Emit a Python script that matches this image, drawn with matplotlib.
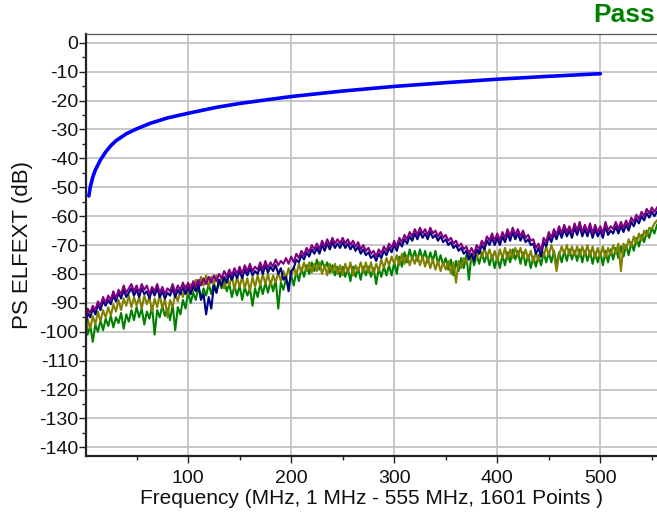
import numpy as np
import matplotlib
matplotlib.use("Agg")
import matplotlib.pyplot as plt
from matplotlib.ticker import MultipleLocator

plt.rcParams['font.family'] = ['Liberation Sans', 'DejaVu Sans']
plt.rcParams['axes.unicode_minus'] = False

# sweep grid (MHz): 1 MHz, then every 2.5 MHz up to 555
freq = np.concatenate(([1], np.arange(2.5, 555.1, 2.5)))

# limit line
limit_f = [3.7, 5, 7.5, 10, 15, 20, 25, 30, 40, 50, 63, 80, 100, 128, 150, 175,
           200, 250, 300, 350, 400, 450, 500]
limit_db = [-53, -50, -46.5, -44, -40.5, -37.8, -35.6, -33.9, -31.5, -29.8, -27.9, -26,
            -24.4, -22.3, -21, -19.8, -18.6, -16.7, -15.1, -13.8, -12.6, -11.6, -10.7]

# measured pairs, one row per 25 MHz
purple = [-95.5, -92, -93.5, -91, -92.5, -89.5, -91, -88, -90, -87.5,
          -89, -86, -88.5, -85.5, -87, -84, -86.5, -85, -83.5, -86,
          -84, -86.5, -83.5, -85.5, -84, -87, -84.5, -86, -83.5, -86.5,
          -84.5, -87, -85, -86, -83.5, -86.5, -84, -85.5, -83, -85.5,
          -83, -85.5, -82.5, -84.5, -82, -84, -81.5, -83.5, -81, -83,
          -80.5, -82.5, -80, -81.5, -79, -81, -78.5, -80.5, -78, -80,
          -77.5, -80, -77, -79, -76.5, -79, -77.5, -78.5, -76, -78.5,
          -75.5, -78, -76, -77.5, -75, -77, -75.5, -76.5, -74.5, -76.5,
          -74, -76, -73, -74.5, -72, -73.5, -71, -72.5, -70, -71.5,
          -69.5, -71.5, -68.5, -70.5, -68, -70, -67.5, -69.5, -68, -69.5,
          -67.5, -69.5, -68, -70, -68.5, -70.5, -69, -71.5, -70, -72,
          -71, -73, -72, -74, -71.5, -73, -70.5, -72, -69.5, -71,
          -68.5, -70.5, -67.5, -69, -66.5, -68, -65.5, -67, -64.5, -66.5,
          -64, -66, -64.5, -66.5, -64, -66, -65, -67, -65.5, -67.5,
          -66.5, -68.5, -67.5, -69.5, -68.5, -70.5, -69.5, -71.5, -70.5, -73,
          -71, -73, -70, -71.5, -68.5, -70, -67, -68.5, -66, -68.5,
          -66, -68.5, -65.5, -67.5, -64.5, -67, -64, -66.5, -64.5, -67,
          -65, -67.5, -66.5, -68.5, -68, -71, -69.5, -72, -67.5, -69,
          -65.5, -67.5, -64.5, -66.5, -63.5, -66, -63, -65.5, -63.5, -66,
          -62.5, -65, -62, -65.5, -63, -65.5, -62.5, -66, -63, -65.5,
          -63.5, -66, -62, -65, -63.5, -64.5, -62, -64.5, -62, -64,
          -61.5, -63.5, -60.5, -62, -59.5, -61, -58.5, -60, -57.5, -59,
          -57, -58.5, -57]
navy = [-97, -93.5, -95, -92, -94, -90.5, -92.5, -89.5, -91, -89,
        -90.5, -87.5, -89.5, -86.5, -88.5, -85.5, -88, -86.5, -85, -87.5,
        -85.5, -88, -85, -87, -86, -88.5, -85.5, -87.5, -85, -88,
        -86, -88.5, -86.5, -87.5, -85, -88, -85.5, -87, -84.5, -87,
        -84.5, -87, -84, -86, -83.5, -89, -87, -94, -88, -92,
        -84, -86.5, -82, -84, -81, -83, -80, -82, -79.5, -81.5,
        -79, -81.5, -78.5, -80.5, -78, -80.5, -79, -80, -77.5, -80,
        -77, -79.5, -77.5, -79, -77, -80, -78, -82, -81, -86,
        -79, -78, -75, -76, -73.5, -75, -72.5, -74, -71.5, -73,
        -71, -73, -70, -72, -69.5, -71.5, -69, -71, -69.5, -71,
        -69, -71, -69.5, -71.5, -70, -72, -70.5, -73, -71.5, -73.5,
        -72.5, -74.5, -73.5, -75.5, -73, -74.5, -72, -73.5, -71, -72.5,
        -70, -72, -69, -70.5, -68, -69.5, -67, -68.5, -66, -68,
        -65.5, -67.5, -66, -68, -65.5, -67.5, -66.5, -68.5, -67, -69,
        -68, -70, -69, -71, -70, -72, -71, -73, -72, -75,
        -73, -75.5, -71.5, -73, -70, -71.5, -68.5, -70, -67.5, -70,
        -67.5, -70, -67, -69, -66, -68.5, -65.5, -68, -66, -68.5,
        -66.5, -69, -68, -70, -69.5, -73, -71, -74, -69, -70.5,
        -67, -69, -66, -68, -65, -67.5, -64.5, -67, -65, -67.5,
        -64, -66.5, -63.5, -67, -64.5, -67, -64, -67.5, -64.5, -67,
        -65, -67.5, -63.5, -66.5, -65, -66, -63.5, -66, -63.5, -65.5,
        -63, -65, -62, -63.5, -61, -62.5, -60, -61.5, -59, -60.5,
        -58.5, -60, -58.5]
green = [-96, -101, -98, -103.5, -97.5, -100, -96, -99.5, -95.5, -98,
         -94.5, -98.5, -95, -97, -93.5, -99, -94, -96.5, -92.5, -96,
         -91.5, -95, -92, -97.5, -93, -95.5, -91, -101, -92.5, -95,
         -91, -94.5, -92, -96, -90.5, -99.5, -91.5, -94, -89, -92,
         -86, -90, -86.5, -89, -84.5, -88.5, -85, -87.5, -83.5, -87,
         -83, -86.5, -82.5, -85, -82, -86, -83.5, -88, -84, -87.5,
         -84, -89, -84.5, -87.5, -85, -91, -85, -88, -83.5, -87,
         -83, -86.5, -82.5, -86, -82, -92, -83, -85.5, -81.5, -84.5,
         -80.5, -84, -79, -82.5, -78, -81, -77, -80, -76, -79,
         -75, -78.5, -75.5, -78, -76, -79.5, -77, -80.5, -77.5, -81,
         -77.5, -81, -78, -82.5, -77.5, -81, -78, -82, -77.5, -80.5,
         -77.5, -81, -78, -83.5, -78, -81, -77.5, -80.5, -77, -80.5,
         -76, -80, -74, -77.5, -72.5, -76, -71.5, -75, -72, -75.5,
         -71.5, -75, -72, -76, -72.5, -75.5, -72, -76.5, -73.5, -77,
         -74.5, -78.5, -75, -80.5, -75.5, -79, -74.5, -78, -73.5, -82,
         -73, -77, -73.5, -76.5, -72.5, -76, -73, -77, -73.5, -78,
         -74, -78, -73.5, -77, -72.5, -76, -71.5, -75, -72, -76.5,
         -72.5, -77, -73.5, -78, -74, -77.5, -73.5, -77, -72.5, -76,
         -72.5, -76, -72, -77, -72.5, -76, -72, -75.5, -71.5, -75,
         -72, -75.5, -71.5, -76, -72, -75.5, -72, -76.5, -72.5, -76,
         -72.5, -77, -72, -76, -71.5, -75, -71, -74.5, -70.5, -74,
         -70, -73.5, -69, -72, -67.5, -70.5, -66.5, -69, -65, -67.5,
         -64, -66, -63]
olive = [-100.5, -95.5, -99, -94.5, -97.5, -93, -96.5, -92.5, -95, -91.5,
         -94.5, -90.5, -93, -89, -92.5, -88.5, -91, -87.5, -91.5, -88,
         -91, -88, -92, -87.5, -90.5, -88, -93, -88.5, -91.5, -87,
         -92, -88.5, -95, -89, -91.5, -87, -89.5, -85.5, -88, -84,
         -87, -83.5, -86, -82, -85, -81, -84, -80.5, -84.5, -81,
         -83.5, -80.5, -84, -81, -85, -81.5, -84, -80.5, -85.5, -81,
         -84.5, -81, -85, -81.5, -86, -81, -84.5, -80.5, -84, -80,
         -83.5, -80, -84, -80.5, -83, -79.5, -82.5, -79, -81.5, -78,
         -81, -77.5, -80.5, -76.5, -79.5, -76, -79, -76, -79.5, -76.5,
         -79, -76, -80, -77, -80.5, -76.5, -79.5, -76.5, -80, -77,
         -80.5, -76.5, -79.5, -76, -80.5, -77, -79, -76, -79.5, -76,
         -79.5, -76, -80, -76.5, -79, -75, -78, -74.5, -77, -74,
         -76.5, -73.5, -77, -73, -76.5, -73.5, -77, -74, -76.5, -73.5,
         -77, -74, -77.5, -74, -78, -75, -78.5, -75.5, -79, -76,
         -78.5, -75.5, -80, -76, -83, -75.5, -78, -74.5, -76.5, -73,
         -75.5, -72, -75, -71.5, -74.5, -71, -74, -71.5, -75, -72,
         -75.5, -71.5, -74.5, -71, -75, -71.5, -74.5, -71, -74, -71,
         -74.5, -71.5, -75, -72, -76, -72.5, -75.5, -71.5, -74, -70.5,
         -73.5, -70, -73, -79, -73.5, -70.5, -73, -70, -73.5, -70.5,
         -73.5, -70.5, -74, -70.5, -73.5, -70, -74, -70.5, -74.5, -71,
         -74, -70.5, -74.5, -71, -73.5, -70, -73, -69.5, -79, -69.5,
         -71.5, -68, -70.5, -67, -69.5, -66, -68.5, -65, -67, -64,
         -64.5, -62.5, -61.5]

fig = plt.figure(figsize=(6.57, 5.17), dpi=100)
ax = fig.add_axes([0.131, 0.118, 0.869, 0.816])

ax.plot(freq, green, color="#008000", lw=1.5)
ax.plot(freq, olive, color="#808000", lw=1.5)
ax.plot(freq, navy, color="#000080", lw=1.5)
ax.plot(freq, purple, color="#800080", lw=1.5)
ax.plot(limit_f, limit_db, color="#0000ff", lw=2.6, solid_capstyle="round")

ax.set_xlim(1, 555)
ax.set_ylim(-143, 3)
ax.set_xticks([100, 200, 300, 400, 500])
ax.set_yticks(np.arange(-140, 1, 10))
ax.xaxis.set_minor_locator(MultipleLocator(50))
ax.yaxis.set_minor_locator(MultipleLocator(5))
ax.grid(True, which="major", color="#c4c4c4", lw=1.3)
ax.set_axisbelow(True)

for s in ("left", "bottom"):
    ax.spines[s].set_color("#222222")
    ax.spines[s].set_linewidth(1.6)
ax.spines["top"].set_color("#555555")
ax.spines["top"].set_linewidth(0.9)
ax.spines["right"].set_visible(False)

ax.tick_params(which="major", direction="out", length=5, width=1, colors="#222222",
               labelsize=14, labelcolor="#111111")
ax.tick_params(axis="y", which="major", pad=0.5)
ax.tick_params(axis="x", which="major", pad=5)
ax.tick_params(which="minor", direction="out", length=3, width=1, colors="#222222")

ax.set_xlabel("Frequency (MHz, 1 MHz - 555 MHz, 1601 Points )", fontsize=15, color="#111111")
ax.set_ylabel("PS ELFEXT (dB)", fontsize=16, color="#111111")
ax.xaxis.set_label_coords(0.5, -0.078)
ax.yaxis.set_label_coords(-0.093, 0.5)

fig.text(0.997, 0.948, "Pass", color="#008000", fontsize=19, fontweight="bold", ha="right", va="bottom")

fig.savefig("out.png", dpi=100)
